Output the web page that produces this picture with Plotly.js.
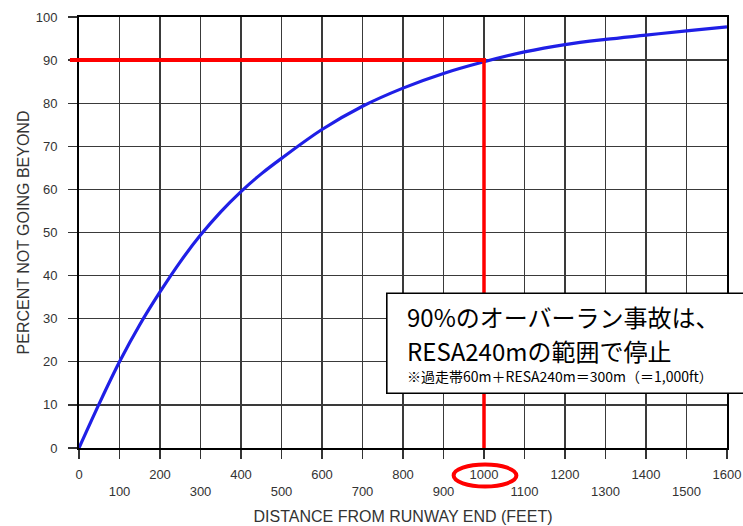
<!DOCTYPE html>
<html>
<head>
<meta charset="utf-8">
<script src="https://cdn.plot.ly/plotly-3.0.1.min.js"></script>
<style>html,body{margin:0;padding:0;background:#fff;}#chart{width:743px;height:526px;}</style>
</head>
<body>
<div id="chart"></div>
<script>
// Data
const distanceFt = [0, 50, 100, 150, 200, 250, 300, 350, 400, 450, 500, 600, 700, 800, 900, 1000, 1100, 1200, 1300, 1400, 1500, 1600];
const percentNotBeyond = [0, 10.3, 20, 28.6, 36.2, 43.2, 49.4, 54.8, 59.5, 63.6, 67.2, 73.9, 79.3, 83.5, 86.9, 89.6, 91.9, 93.6, 94.8, 95.8, 96.8, 97.7];
const xTickVals = [0, 100, 200, 300, 400, 500, 600, 700, 800, 900, 1000, 1100, 1200, 1300, 1400, 1500, 1600];
const xTickText = ["0", "<br>100", "200", "<br>300", "400", "<br>500", "600", "<br>700", "800", "<br>900", "1000", "<br>1100", "1200", "<br>1300", "1400", "<br>1500", "1600"];
const yTickVals = [0, 10, 20, 30, 40, 50, 60, 70, 80, 90, 100];
const highlightX = 1000;
const highlightY = 90;
const xMax = 1600;
const noteLines = ["90%のオーバーラン事故は、", "RESA240mの範囲で停止", "※過走帯60m＋RESA240m＝300m（＝1,000ft）"];
const xTitle = "DISTANCE FROM RUNWAY END (FEET)";
const yTitle = "PERCENT NOT GOING BEYOND";

const trace = {
  x: distanceFt, y: percentNotBeyond, type: 'scatter', mode: 'lines',
  line: {color: '#1f1fe6', width: 3.2, shape: 'spline', smoothing: 1},
  hoverinfo: 'skip'
};

const jp = '"Noto Sans CJK JP", sans-serif';
const layout = {
  width: 743, height: 526,
  margin: {l: 79, r: 16, t: 17, b: 78},
  paper_bgcolor: '#fff', plot_bgcolor: '#fff',
  showlegend: false,
  font: {family: '"Liberation Sans", Arial, sans-serif', color: '#333'},
  xaxis: {
    range: [0, xMax], tickvals: xTickVals, ticktext: xTickText,
    showgrid: true, gridcolor: '#3a3a3a', gridwidth: 1.4,
    showline: true, linecolor: '#000', linewidth: 2, mirror: true,
    ticks: 'outside', ticklen: 9, tickwidth: 1.4, tickcolor: '#333',
    tickfont: {size: 13, color: '#333'}, ticklabelstandoff: 4,
    zeroline: false,
    title: {text: xTitle, font: {size: 16, color: '#333'}, standoff: 13}
  },
  yaxis: {
    range: [0, 100], tickvals: yTickVals,
    showgrid: true, gridcolor: '#3a3a3a', gridwidth: 1.4,
    showline: true, linecolor: '#000', linewidth: 2, mirror: true,
    ticks: 'outside', ticklen: 9, tickwidth: 1.4, tickcolor: '#333',
    tickfont: {size: 13, color: '#333'}, ticklabelstandoff: 8,
    zeroline: false,
    title: {text: yTitle, font: {size: 16, color: '#333'}, standoff: 2}
  },
  shapes: [
    {type: 'line', xref: 'paper', yref: 'y', x0: -0.014, x1: highlightX / xMax + 0.003, y0: highlightY, y1: highlightY,
     line: {color: '#ff0000', width: 4}},
    {type: 'line', xref: 'x', yref: 'y', x0: highlightX, x1: highlightX, y0: highlightY, y1: 0,
     line: {color: '#ff0000', width: 3.5}},
    {type: 'rect', xref: 'paper', yref: 'y', x0: 0.475, x1: 1.1, y0: 12.7, y1: 35.9,
     fillcolor: '#fff', line: {color: '#000', width: 1.6}},
    {type: 'circle', xref: 'x', yref: 'paper', x0: 925, x1: 1080, y0: -0.0383, y1: -0.0893,
     line: {color: '#ff0000', width: 4}}
  ],
  annotations: [
    {xref: 'x', yref: 'y', x: 805, y: 30.4, xanchor: 'left', yanchor: 'middle', showarrow: false,
     text: noteLines[0], font: {family: jp, size: 24, color: '#000'}},
    {xref: 'x', yref: 'y', x: 805, y: 22.6, xanchor: 'left', yanchor: 'middle', showarrow: false,
     text: noteLines[1], font: {family: jp, size: 24, color: '#000'}},
    {xref: 'x', yref: 'y', x: 805, y: 16.7, xanchor: 'left', yanchor: 'middle', showarrow: false,
     text: noteLines[2], font: {family: jp, size: 14, color: '#000'}}
  ]
};

Plotly.newPlot('chart', [trace], layout, {displayModeBar: false, staticPlot: true});
</script>
</body>
</html>
